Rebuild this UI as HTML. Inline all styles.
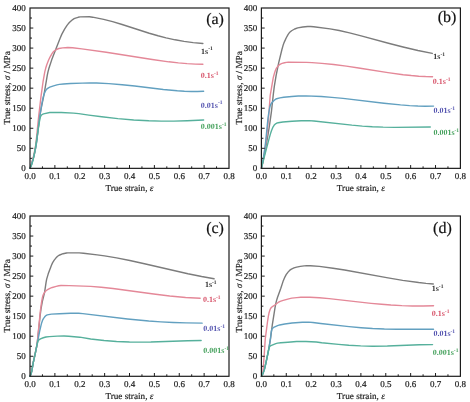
<!DOCTYPE html>
<html><head><meta charset="utf-8"><style>
html,body{margin:0;padding:0;background:#fff;}
svg{display:block;filter:blur(0.5px);}
text{font-family:"Liberation Serif", serif;text-rendering:geometricPrecision;}
.tl{font-size:9px;fill:#222;stroke:#222;stroke-width:0.2px;}
.at{font-size:9.2px;fill:#222;stroke:#222;stroke-width:0.18px;}
.cl{font-size:8px;font-weight:bold;}
.sup{font-size:5.5px;}
.pl{font-size:16px;fill:#111;stroke:#111;stroke-width:0.2px;}
</style></head><body>
<svg width="470" height="402" viewBox="0 0 470 402">
<rect width="470" height="402" fill="#fff"/>
<path d="M30.00 168.35 L31.47 164.45 L33.11 159.00 L34.50 153.54 L35.71 147.73 L36.75 141.11 L38.99 121.78 L39.95 115.02 L41.07 108.87 L44.01 94.62 L47.30 75.04 L47.99 71.81 L48.94 68.21 L51.79 59.62 L60.01 38.42 L61.74 34.40 L64.59 29.08 L67.02 25.33 L68.23 23.82 L69.87 22.09 L72.72 19.55 L74.11 18.69 L75.49 18.13 L78.09 17.30 L80.16 16.89 L89.50 16.82 L92.61 17.18 L103.68 19.34 L112.59 21.60 L122.11 24.47 L149.26 33.24 L158.00 35.77 L166.13 37.85 L175.12 39.81 L184.03 41.38 L193.20 42.61 L202.88 43.55" fill="none" stroke="#7c7c7c" stroke-width="1.4" stroke-linejoin="round" stroke-linecap="round"/>
<path d="M30.00 168.35 L31.47 163.98 L33.20 157.55 L34.50 151.76 L35.53 145.90 L36.49 138.13 L38.56 117.20 L40.98 96.59 L43.06 81.73 L44.79 71.86 L45.74 68.08 L46.86 64.52 L48.42 60.47 L49.89 57.29 L51.71 54.08 L53.00 52.19 L53.87 51.30 L56.03 49.80 L57.50 49.02 L58.89 48.51 L62.69 47.87 L67.79 47.49 L72.55 47.72 L81.80 48.83 L106.19 52.23 L152.29 59.47 L168.81 61.82 L178.41 62.92 L187.05 63.67 L195.36 64.12 L202.88 64.25" fill="none" stroke="#e48898" stroke-width="1.4" stroke-linejoin="round" stroke-linecap="round"/>
<path d="M30.00 168.35 L31.56 164.16 L33.21 158.63 L34.60 153.08 L35.82 147.13 L36.86 140.19 L39.55 117.52 L41.73 104.41 L43.20 97.17 L44.24 93.65 L45.11 91.66 L45.98 90.09 L46.59 89.29 L47.37 88.61 L48.50 87.86 L49.80 87.20 L53.54 85.85 L56.93 84.89 L59.44 84.42 L63.44 84.00 L70.39 83.54 L82.37 83.08 L89.58 82.97 L96.62 83.07 L108.87 83.63 L122.16 84.70 L134.75 86.04 L163.33 89.44 L177.31 90.77 L184.43 91.23 L191.21 91.47 L197.46 91.49 L203.63 91.29" fill="none" stroke="#62a0c0" stroke-width="1.4" stroke-linejoin="round" stroke-linecap="round"/>
<path d="M30.00 168.35 L30.87 166.77 L31.82 164.21 L33.04 160.13 L33.82 156.71 L35.82 145.34 L38.25 128.82 L39.55 121.00 L40.25 117.59 L40.68 116.26 L41.38 115.16 L42.42 114.28 L43.55 113.84 L49.72 112.56 L51.19 112.39 L61.27 112.56 L73.52 113.09 L78.73 113.62 L88.80 115.08 L101.74 116.74 L117.90 118.59 L133.71 119.98 L148.82 120.82 L161.15 121.13 L173.75 121.10 L187.21 120.76 L203.63 120.04" fill="none" stroke="#56b09c" stroke-width="1.4" stroke-linejoin="round" stroke-linecap="round"/>
<path d="M42.44 168.35V166.35M54.88 168.35V165.05M67.31 168.35V166.35M79.75 168.35V165.05M92.19 168.35V166.35M104.63 168.35V165.05M117.06 168.35V166.35M129.50 168.35V165.05M141.94 168.35V166.35M154.38 168.35V165.05M166.81 168.35V166.35M179.25 168.35V165.05M191.69 168.35V166.35M204.13 168.35V165.05M216.56 168.35V166.35M30.00 158.33H32.00M30.00 148.31H33.30M30.00 138.28H32.00M30.00 128.26H33.30M30.00 118.24H32.00M30.00 108.22H33.30M30.00 98.20H32.00M30.00 88.17H33.30M30.00 78.15H32.00M30.00 68.13H33.30M30.00 58.11H32.00M30.00 48.09H33.30M30.00 38.07H32.00M30.00 28.04H33.30M30.00 18.02H32.00" stroke="#1c1c1c" stroke-width="1" fill="none"/>
<rect x="30.00" y="8.00" width="199.00" height="160.35" fill="none" stroke="#1c1c1c" stroke-width="1.2"/>
<text x="30.00" y="179.35" class="tl" text-anchor="middle">0.0</text>
<text x="54.88" y="179.35" class="tl" text-anchor="middle">0.1</text>
<text x="79.75" y="179.35" class="tl" text-anchor="middle">0.2</text>
<text x="104.63" y="179.35" class="tl" text-anchor="middle">0.3</text>
<text x="129.50" y="179.35" class="tl" text-anchor="middle">0.4</text>
<text x="154.38" y="179.35" class="tl" text-anchor="middle">0.5</text>
<text x="179.25" y="179.35" class="tl" text-anchor="middle">0.6</text>
<text x="204.13" y="179.35" class="tl" text-anchor="middle">0.7</text>
<text x="229.00" y="179.35" class="tl" text-anchor="middle">0.8</text>
<text x="25.80" y="171.15" class="tl" text-anchor="end">0</text>
<text x="25.80" y="151.11" class="tl" text-anchor="end">50</text>
<text x="25.80" y="131.06" class="tl" text-anchor="end">100</text>
<text x="25.80" y="111.02" class="tl" text-anchor="end">150</text>
<text x="25.80" y="90.97" class="tl" text-anchor="end">200</text>
<text x="25.80" y="70.93" class="tl" text-anchor="end">250</text>
<text x="25.80" y="50.89" class="tl" text-anchor="end">300</text>
<text x="25.80" y="30.84" class="tl" text-anchor="end">350</text>
<text x="25.80" y="10.80" class="tl" text-anchor="end">400</text>
<text x="129.40" y="190.95" class="at" text-anchor="middle">True strain, <tspan font-style="italic">&#949;</tspan></text>
<text transform="translate(10.20 87.88) rotate(-90)" class="at" text-anchor="middle">True stress, <tspan font-style="italic">&#963;</tspan> / MPa</text>
<text x="201.00" y="53.60" class="cl" fill="#333333">1s<tspan class="sup" dy="-3.2">-1</tspan></text>
<text x="200.80" y="77.90" class="cl" fill="#d8566c">0.1s<tspan class="sup" dy="-3.2">-1</tspan></text>
<text x="200.80" y="107.60" class="cl" fill="#5555b0">0.01s<tspan class="sup" dy="-3.2">-1</tspan></text>
<text x="200.80" y="129.20" class="cl" fill="#47a25e">0.001s<tspan class="sup" dy="-3.2">-1</tspan></text>
<text x="206.20" y="24.10" class="pl">(a)</text>
<path d="M261.40 168.35 L263.02 161.34 L264.65 153.47 L268.15 133.97 L269.86 122.93 L271.40 111.83 L273.45 93.05 L274.31 86.46 L276.10 75.67 L278.67 62.81 L281.92 49.50 L283.03 45.60 L284.05 42.63 L286.28 37.73 L288.16 34.34 L289.78 32.19 L291.58 30.76 L294.65 29.00 L297.73 27.87 L302.78 27.00 L307.65 26.53 L310.56 26.49 L313.63 26.71 L330.05 28.87 L339.19 30.55 L349.54 32.87 L361.16 35.81 L389.38 43.46 L403.05 46.99 L417.93 50.49 L432.29 53.43" fill="none" stroke="#7c7c7c" stroke-width="1.4" stroke-linejoin="round" stroke-linecap="round"/>
<path d="M261.40 168.35 L262.43 164.05 L263.54 158.22 L265.94 142.51 L267.14 132.40 L268.42 119.64 L270.22 95.29 L273.04 78.97 L273.56 76.47 L274.41 73.42 L275.27 70.84 L276.13 68.81 L276.81 67.63 L278.18 65.91 L279.29 64.82 L280.41 64.05 L282.12 63.41 L284.52 62.75 L286.48 62.41 L288.28 62.28 L306.60 62.33 L312.00 62.60 L321.84 63.34 L333.66 64.52 L346.33 66.14 L358.66 67.96 L387.94 72.59 L403.17 74.69 L411.31 75.57 L418.76 76.19 L425.61 76.55 L432.54 76.68" fill="none" stroke="#e48898" stroke-width="1.4" stroke-linejoin="round" stroke-linecap="round"/>
<path d="M261.40 168.35 L263.04 160.27 L265.02 147.14 L265.79 140.58 L267.94 118.60 L268.89 112.19 L269.75 107.51 L270.44 105.08 L271.04 103.86 L271.82 102.71 L274.49 100.06 L275.61 99.25 L276.64 98.74 L279.91 97.87 L283.70 97.25 L291.80 96.45 L298.17 96.01 L306.01 95.90 L321.42 96.54 L331.84 97.34 L343.03 98.42 L383.94 103.25 L400.55 104.92 L409.60 105.60 L417.86 106.02 L425.35 106.20 L433.53 106.13" fill="none" stroke="#62a0c0" stroke-width="1.4" stroke-linejoin="round" stroke-linecap="round"/>
<path d="M261.40 168.35 L264.70 155.21 L269.09 138.64 L270.36 134.12 L271.45 130.77 L272.98 127.02 L274.07 125.35 L275.09 124.25 L276.02 123.51 L276.69 123.17 L278.13 122.78 L282.86 121.98 L292.07 121.21 L301.20 120.69 L308.80 120.58 L313.95 120.96 L351.89 125.17 L362.37 126.08 L372.34 126.72 L383.15 127.15 L394.65 127.33 L430.30 126.99" fill="none" stroke="#56b09c" stroke-width="1.4" stroke-linejoin="round" stroke-linecap="round"/>
<path d="M273.84 168.35V166.35M286.27 168.35V165.05M298.71 168.35V166.35M311.15 168.35V165.05M323.59 168.35V166.35M336.02 168.35V165.05M348.46 168.35V166.35M360.90 168.35V165.05M373.34 168.35V166.35M385.77 168.35V165.05M398.21 168.35V166.35M410.65 168.35V165.05M423.09 168.35V166.35M435.52 168.35V165.05M447.96 168.35V166.35M261.40 158.33H263.40M261.40 148.31H264.70M261.40 138.28H263.40M261.40 128.26H264.70M261.40 118.24H263.40M261.40 108.22H264.70M261.40 98.20H263.40M261.40 88.17H264.70M261.40 78.15H263.40M261.40 68.13H264.70M261.40 58.11H263.40M261.40 48.09H264.70M261.40 38.07H263.40M261.40 28.04H264.70M261.40 18.02H263.40" stroke="#1c1c1c" stroke-width="1" fill="none"/>
<rect x="261.40" y="8.00" width="199.00" height="160.35" fill="none" stroke="#1c1c1c" stroke-width="1.2"/>
<text x="261.40" y="179.35" class="tl" text-anchor="middle">0.0</text>
<text x="286.27" y="179.35" class="tl" text-anchor="middle">0.1</text>
<text x="311.15" y="179.35" class="tl" text-anchor="middle">0.2</text>
<text x="336.02" y="179.35" class="tl" text-anchor="middle">0.3</text>
<text x="360.90" y="179.35" class="tl" text-anchor="middle">0.4</text>
<text x="385.77" y="179.35" class="tl" text-anchor="middle">0.5</text>
<text x="410.65" y="179.35" class="tl" text-anchor="middle">0.6</text>
<text x="435.52" y="179.35" class="tl" text-anchor="middle">0.7</text>
<text x="460.40" y="179.35" class="tl" text-anchor="middle">0.8</text>
<text x="257.20" y="171.15" class="tl" text-anchor="end">0</text>
<text x="257.20" y="151.11" class="tl" text-anchor="end">50</text>
<text x="257.20" y="131.06" class="tl" text-anchor="end">100</text>
<text x="257.20" y="111.02" class="tl" text-anchor="end">150</text>
<text x="257.20" y="90.97" class="tl" text-anchor="end">200</text>
<text x="257.20" y="70.93" class="tl" text-anchor="end">250</text>
<text x="257.20" y="50.89" class="tl" text-anchor="end">300</text>
<text x="257.20" y="30.84" class="tl" text-anchor="end">350</text>
<text x="257.20" y="10.80" class="tl" text-anchor="end">400</text>
<text x="360.80" y="190.95" class="at" text-anchor="middle">True strain, <tspan font-style="italic">&#949;</tspan></text>
<text transform="translate(241.60 87.88) rotate(-90)" class="at" text-anchor="middle">True stress, <tspan font-style="italic">&#963;</tspan> / MPa</text>
<text x="433.30" y="59.40" class="cl" fill="#333333">1s<tspan class="sup" dy="-3.2">-1</tspan></text>
<text x="432.80" y="84.10" class="cl" fill="#d8566c">0.1s<tspan class="sup" dy="-3.2">-1</tspan></text>
<text x="433.40" y="113.40" class="cl" fill="#5555b0">0.01s<tspan class="sup" dy="-3.2">-1</tspan></text>
<text x="433.40" y="135.00" class="cl" fill="#47a25e">0.001s<tspan class="sup" dy="-3.2">-1</tspan></text>
<text x="437.70" y="22.00" class="pl">(b)</text>
<path d="M30.00 376.30 L30.74 374.74 L31.66 371.63 L33.22 362.72 L36.81 345.81 L37.55 340.31 L40.13 315.79 L40.96 309.24 L42.43 300.99 L44.55 292.60 L46.11 282.08 L46.67 279.10 L48.23 273.86 L51.46 265.32 L52.65 262.60 L54.22 260.18 L56.06 257.83 L57.63 256.26 L59.10 255.23 L63.06 253.72 L66.47 252.97 L67.94 252.87 L79.17 252.87 L83.50 253.20 L97.13 254.86 L104.59 255.91 L116.56 257.93 L129.82 260.54 L144.46 263.75 L187.92 273.74 L201.64 276.56 L214.07 278.80" fill="none" stroke="#7c7c7c" stroke-width="1.4" stroke-linejoin="round" stroke-linecap="round"/>
<path d="M30.00 376.30 L30.77 374.66 L31.70 371.44 L33.23 362.67 L36.21 349.01 L36.89 345.34 L37.49 340.44 L40.30 311.35 L41.49 302.70 L42.43 297.44 L42.85 295.83 L43.36 294.56 L44.13 293.07 L44.98 291.83 L45.75 291.03 L47.11 289.98 L49.92 288.38 L52.30 287.46 L56.22 286.36 L58.77 285.80 L60.98 285.55 L69.41 285.65 L90.69 286.35 L101.24 287.21 L112.99 288.50 L153.67 294.04 L169.76 296.00 L185.59 297.46 L200.15 298.24" fill="none" stroke="#e48898" stroke-width="1.4" stroke-linejoin="round" stroke-linecap="round"/>
<path d="M30.00 376.30 L30.77 374.63 L31.72 371.34 L33.36 362.05 L35.60 351.81 L39.73 330.94 L41.37 323.83 L42.49 320.41 L43.43 318.65 L44.55 317.06 L45.50 315.98 L46.36 315.26 L47.22 314.83 L51.44 314.17 L59.54 313.68 L70.47 313.29 L78.65 313.28 L82.79 313.65 L127.56 318.95 L148.75 320.99 L160.89 321.84 L173.20 322.45 L186.12 322.87 L202.13 323.16" fill="none" stroke="#62a0c0" stroke-width="1.4" stroke-linejoin="round" stroke-linecap="round"/>
<path d="M30.00 376.30 L30.77 374.64 L31.63 371.77 L33.17 363.01 L35.48 352.38 L36.68 346.13 L38.05 341.01 L38.30 340.50 L38.90 339.86 L40.44 338.80 L43.27 337.74 L45.92 337.02 L49.26 336.61 L57.31 336.15 L63.99 336.02 L68.70 336.18 L79.74 337.18 L90.70 338.96 L104.06 340.51 L116.55 341.46 L129.48 341.97 L139.76 342.08 L150.80 341.95 L187.70 340.68 L201.14 340.43" fill="none" stroke="#56b09c" stroke-width="1.4" stroke-linejoin="round" stroke-linecap="round"/>
<path d="M42.44 376.30V374.30M54.88 376.30V373.00M67.31 376.30V374.30M79.75 376.30V373.00M92.19 376.30V374.30M104.63 376.30V373.00M117.06 376.30V374.30M129.50 376.30V373.00M141.94 376.30V374.30M154.38 376.30V373.00M166.81 376.30V374.30M179.25 376.30V373.00M191.69 376.30V374.30M204.13 376.30V373.00M216.56 376.30V374.30M30.00 366.28H32.00M30.00 356.26H33.30M30.00 346.24H32.00M30.00 336.23H33.30M30.00 326.21H32.00M30.00 316.19H33.30M30.00 306.17H32.00M30.00 296.15H33.30M30.00 286.13H32.00M30.00 276.11H33.30M30.00 266.09H32.00M30.00 256.07H33.30M30.00 246.06H32.00M30.00 236.04H33.30M30.00 226.02H32.00" stroke="#1c1c1c" stroke-width="1" fill="none"/>
<rect x="30.00" y="216.00" width="199.00" height="160.30" fill="none" stroke="#1c1c1c" stroke-width="1.2"/>
<text x="30.00" y="387.30" class="tl" text-anchor="middle">0.0</text>
<text x="54.88" y="387.30" class="tl" text-anchor="middle">0.1</text>
<text x="79.75" y="387.30" class="tl" text-anchor="middle">0.2</text>
<text x="104.63" y="387.30" class="tl" text-anchor="middle">0.3</text>
<text x="129.50" y="387.30" class="tl" text-anchor="middle">0.4</text>
<text x="154.38" y="387.30" class="tl" text-anchor="middle">0.5</text>
<text x="179.25" y="387.30" class="tl" text-anchor="middle">0.6</text>
<text x="204.13" y="387.30" class="tl" text-anchor="middle">0.7</text>
<text x="229.00" y="387.30" class="tl" text-anchor="middle">0.8</text>
<text x="25.80" y="379.10" class="tl" text-anchor="end">0</text>
<text x="25.80" y="359.06" class="tl" text-anchor="end">50</text>
<text x="25.80" y="339.03" class="tl" text-anchor="end">100</text>
<text x="25.80" y="318.99" class="tl" text-anchor="end">150</text>
<text x="25.80" y="298.95" class="tl" text-anchor="end">200</text>
<text x="25.80" y="278.91" class="tl" text-anchor="end">250</text>
<text x="25.80" y="258.88" class="tl" text-anchor="end">300</text>
<text x="25.80" y="238.84" class="tl" text-anchor="end">350</text>
<text x="25.80" y="218.80" class="tl" text-anchor="end">400</text>
<text x="129.40" y="398.90" class="at" text-anchor="middle">True strain, <tspan font-style="italic">&#949;</tspan></text>
<text transform="translate(10.20 295.85) rotate(-90)" class="at" text-anchor="middle">True stress, <tspan font-style="italic">&#963;</tspan> / MPa</text>
<text x="204.90" y="286.80" class="cl" fill="#333333">1s<tspan class="sup" dy="-3.2">-1</tspan></text>
<text x="202.90" y="301.90" class="cl" fill="#d8566c">0.1s<tspan class="sup" dy="-3.2">-1</tspan></text>
<text x="203.30" y="331.30" class="cl" fill="#5555b0">0.01s<tspan class="sup" dy="-3.2">-1</tspan></text>
<text x="203.30" y="352.90" class="cl" fill="#47a25e">0.001s<tspan class="sup" dy="-3.2">-1</tspan></text>
<text x="206.20" y="232.90" class="pl">(c)</text>
<path d="M261.40 376.30 L262.09 375.13 L262.86 373.43 L264.41 369.01 L265.70 363.79 L268.11 352.59 L270.43 339.48 L272.23 325.46 L274.99 307.89 L275.67 304.05 L276.45 300.87 L277.48 297.56 L280.83 288.16 L282.98 281.60 L284.87 277.06 L286.16 274.68 L288.23 271.87 L289.86 270.17 L291.41 269.14 L293.99 267.94 L296.65 267.07 L300.35 266.36 L304.14 265.86 L306.80 265.70 L310.41 265.75 L319.35 266.42 L333.03 268.22 L344.63 270.03 L386.60 277.68 L402.68 280.37 L418.67 282.55 L426.06 283.33 L433.29 283.93" fill="none" stroke="#7c7c7c" stroke-width="1.4" stroke-linejoin="round" stroke-linecap="round"/>
<path d="M261.40 376.30 L261.92 375.89 L262.52 374.63 L262.86 372.54 L264.07 357.10 L265.27 338.84 L267.51 321.78 L268.37 316.05 L268.98 313.03 L270.18 309.32 L270.70 308.30 L271.39 307.45 L272.42 306.55 L274.83 305.02 L278.19 302.46 L280.17 301.37 L283.19 300.37 L289.64 298.61 L291.80 298.17 L296.79 297.59 L300.75 297.30 L309.88 297.32 L319.35 297.78 L329.17 298.64 L371.10 303.33 L381.44 304.32 L390.91 305.06 L401.85 305.67 L412.35 305.97 L423.20 305.99 L433.53 305.73" fill="none" stroke="#e48898" stroke-width="1.4" stroke-linejoin="round" stroke-linecap="round"/>
<path d="M261.40 376.30 L262.43 374.63 L263.64 371.73 L264.50 369.11 L265.36 365.59 L268.89 348.52 L270.36 339.03 L271.22 331.97 L271.82 329.52 L272.34 328.48 L273.63 327.43 L277.59 325.67 L279.66 324.95 L284.74 323.94 L292.06 323.04 L302.39 322.31 L308.67 322.17 L312.89 322.49 L320.64 323.49 L349.06 326.65 L361.12 327.73 L372.57 328.51 L384.37 329.03 L396.68 329.29 L433.53 329.18" fill="none" stroke="#62a0c0" stroke-width="1.4" stroke-linejoin="round" stroke-linecap="round"/>
<path d="M261.40 376.30 L262.08 375.29 L262.86 373.71 L264.48 369.17 L265.77 363.69 L268.59 349.84 L269.53 346.76 L270.05 346.18 L270.90 345.67 L275.78 343.63 L277.58 343.09 L280.83 342.71 L287.94 342.22 L296.59 341.44 L299.84 341.36 L305.92 341.47 L316.36 342.01 L321.67 342.79 L338.45 344.38 L348.81 345.22 L360.71 345.90 L372.44 346.20 L387.34 346.05 L419.53 344.73 L432.54 344.58" fill="none" stroke="#56b09c" stroke-width="1.4" stroke-linejoin="round" stroke-linecap="round"/>
<path d="M273.84 376.30V374.30M286.27 376.30V373.00M298.71 376.30V374.30M311.15 376.30V373.00M323.59 376.30V374.30M336.02 376.30V373.00M348.46 376.30V374.30M360.90 376.30V373.00M373.34 376.30V374.30M385.77 376.30V373.00M398.21 376.30V374.30M410.65 376.30V373.00M423.09 376.30V374.30M435.52 376.30V373.00M447.96 376.30V374.30M261.40 366.28H263.40M261.40 356.26H264.70M261.40 346.24H263.40M261.40 336.23H264.70M261.40 326.21H263.40M261.40 316.19H264.70M261.40 306.17H263.40M261.40 296.15H264.70M261.40 286.13H263.40M261.40 276.11H264.70M261.40 266.09H263.40M261.40 256.07H264.70M261.40 246.06H263.40M261.40 236.04H264.70M261.40 226.02H263.40" stroke="#1c1c1c" stroke-width="1" fill="none"/>
<rect x="261.40" y="216.00" width="199.00" height="160.30" fill="none" stroke="#1c1c1c" stroke-width="1.2"/>
<text x="261.40" y="387.30" class="tl" text-anchor="middle">0.0</text>
<text x="286.27" y="387.30" class="tl" text-anchor="middle">0.1</text>
<text x="311.15" y="387.30" class="tl" text-anchor="middle">0.2</text>
<text x="336.02" y="387.30" class="tl" text-anchor="middle">0.3</text>
<text x="360.90" y="387.30" class="tl" text-anchor="middle">0.4</text>
<text x="385.77" y="387.30" class="tl" text-anchor="middle">0.5</text>
<text x="410.65" y="387.30" class="tl" text-anchor="middle">0.6</text>
<text x="435.52" y="387.30" class="tl" text-anchor="middle">0.7</text>
<text x="460.40" y="387.30" class="tl" text-anchor="middle">0.8</text>
<text x="257.20" y="379.10" class="tl" text-anchor="end">0</text>
<text x="257.20" y="359.06" class="tl" text-anchor="end">50</text>
<text x="257.20" y="339.03" class="tl" text-anchor="end">100</text>
<text x="257.20" y="318.99" class="tl" text-anchor="end">150</text>
<text x="257.20" y="298.95" class="tl" text-anchor="end">200</text>
<text x="257.20" y="278.91" class="tl" text-anchor="end">250</text>
<text x="257.20" y="258.88" class="tl" text-anchor="end">300</text>
<text x="257.20" y="238.84" class="tl" text-anchor="end">350</text>
<text x="257.20" y="218.80" class="tl" text-anchor="end">400</text>
<text x="360.80" y="398.90" class="at" text-anchor="middle">True strain, <tspan font-style="italic">&#949;</tspan></text>
<text transform="translate(241.60 295.85) rotate(-90)" class="at" text-anchor="middle">True stress, <tspan font-style="italic">&#963;</tspan> / MPa</text>
<text x="431.70" y="291.10" class="cl" fill="#333333">1s<tspan class="sup" dy="-3.2">-1</tspan></text>
<text x="431.70" y="315.90" class="cl" fill="#d8566c">0.1s<tspan class="sup" dy="-3.2">-1</tspan></text>
<text x="433.40" y="336.40" class="cl" fill="#5555b0">0.01s<tspan class="sup" dy="-3.2">-1</tspan></text>
<text x="432.70" y="355.00" class="cl" fill="#47a25e">0.001s<tspan class="sup" dy="-3.2">-1</tspan></text>
<text x="433.10" y="233.30" class="pl">(d)</text>
</svg>
</body></html>
